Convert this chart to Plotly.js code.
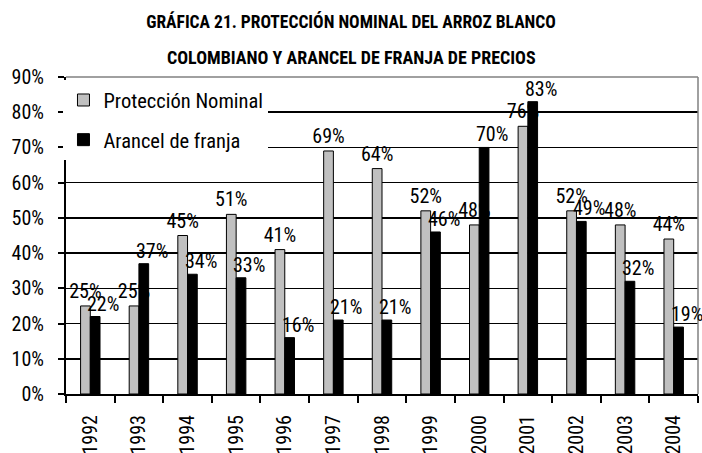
<!DOCTYPE html>
<html>
<head>
<meta charset="utf-8">
<script src="https://cdn.plot.ly/plotly-3.0.1.min.js"></script>
<style>html,body{margin:0;padding:0;background:#fff;}#chart{width:702px;height:453px;}</style>
</head>
<body>
<div id="chart"></div>
<script>
const years = ["1992","1993","1994","1995","1996","1997","1998","1999","2000","2001","2002","2003","2004"];
const proteccionNominal = [25, 25, 45, 51, 41, 69, 64, 52, 48, 76, 52, 48, 44];
const arancelFranja = [22, 37, 34, 33, 16, 21, 21, 46, 70, 83, 49, 32, 19];
const yTicks = [0, 10, 20, 30, 40, 50, 60, 70, 80, 90];
const seriesNames = ["Protección Nominal", "Arancel de franja"];
const titleLines = ["GRÁFICA 21. PROTECCIÓN NOMINAL DEL ARROZ BLANCO", "COLOMBIANO Y ARANCEL DE FRANJA DE PRECIOS"];

const FONT = "'Roboto Condensed', 'Liberation Sans', sans-serif";
const FS = 20;
const TFS = 17.5;

const traces = [
  {
    type: "bar", name: seriesNames[0], x: years, y: proteccionNominal,
    legendgroup: "a",
    marker: {color: "#c0c0c0", line: {color: "#000", width: 1}},
    text: proteccionNominal.map(v => v + "%"),
    textposition: "outside", constraintext: "none", cliponaxis: false,
    textfont: {family: FONT, size: FS, color: "#000"},
    hoverinfo: "skip"
  },
  {
    type: "bar", name: seriesNames[1], x: years, y: arancelFranja,
    legendgroup: "b",
    marker: {color: "#000", line: {color: "#000", width: 1}},
    hoverinfo: "skip"
  }
];

const annotations = arancelFranja.map((v, i) => ({
  x: i, y: v, xref: "x", yref: "y", text: v + "%", showarrow: false,
  yanchor: "bottom", xanchor: "center", xshift: 13, yshift: -1,
  font: {family: FONT, size: FS, color: "#000"}
}));
annotations.push({
  xref: "paper", yref: "paper", x: 0.5, y: 1, text: "<b>" + titleLines[1] + "</b>", showarrow: false,
  xanchor: "center", yanchor: "middle", xshift: -31, yshift: 20,
  font: {family: FONT, size: 18, color: "#000"}
});

const layout = {
  width: 702, height: 453,
  margin: {l: 66, r: 4, t: 77, b: 59},
  paper_bgcolor: "#fff", plot_bgcolor: "#fff",
  font: {family: FONT, size: FS, color: "#000"},
  title: {text: "<b>" + titleLines[0] + "</b>", x: 0.5, xref: "container", y: 1, yref: "container",
          yanchor: "top", pad: {t: 16}, font: {family: FONT, size: TFS, color: "#000"}},
  barmode: "group", bargap: 0.6, bargroupgap: 0,
  showlegend: true,
  legend: {x: -0.004, y: 0.99, xanchor: "left", yanchor: "top", bgcolor: "#fff", borderwidth: 0,
           traceorder: "grouped", tracegroupgap: 10,
           font: {family: FONT, size: 20.5, color: "#000"}},
  xaxis: {type: "category", range: [-0.5, years.length - 0.5], tickangle: -90,
          showline: true, linecolor: "#000", linewidth: 2,
          ticks: "outside", ticklen: 7, tickwidth: 2, tickcolor: "#000", tickson: "boundaries",
          showgrid: false, zeroline: false, ticklabelstandoff: 11,
          tickfont: {family: FONT, size: FS, color: "#000"}},
  yaxis: {range: [0, 90], tickvals: yTicks, ticktext: yTicks.map(v => v + "%"),
          showline: true, linecolor: "#000", linewidth: 2,
          ticks: "outside", ticklen: 6, tickwidth: 2, tickcolor: "#000",
          showgrid: true, gridcolor: "#000", gridwidth: 1.5, zeroline: false, ticklabelstandoff: 10,
          tickfont: {family: FONT, size: FS, color: "#000"}},
  shapes: [
    {type: "line", xref: "paper", yref: "paper", x0: 0, x1: 1, y0: 1, y1: 1, layer: "above",
     line: {color: "#808080", width: 1.5}},
    {type: "line", xref: "paper", yref: "paper", x0: 1, x1: 1, y0: 0, y1: 1, layer: "above",
     line: {color: "#808080", width: 1.5}}
  ],
  annotations: annotations
};

Plotly.newPlot("chart", traces, layout, {displayModeBar: false, staticPlot: true});
</script>
</body>
</html>
